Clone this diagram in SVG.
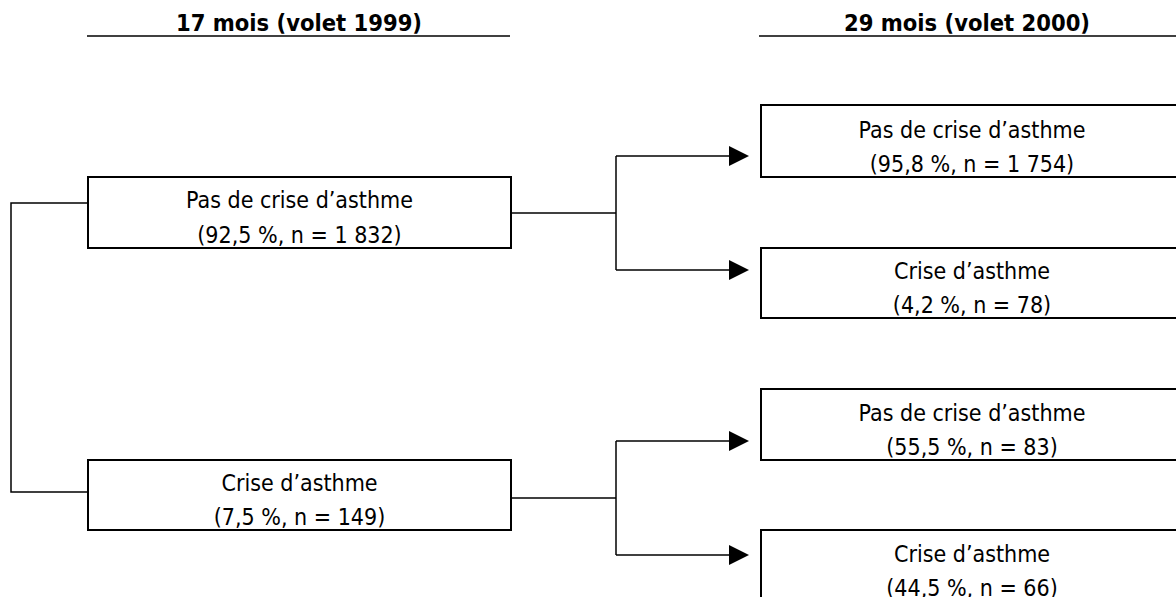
<svg xmlns="http://www.w3.org/2000/svg" width="1176" height="597" viewBox="0 0 1176 597">
<style>
  .box { fill: #ffffff; stroke: #000000; stroke-width: 2; }
  .t { font-family: "DejaVu Sans Condensed", "DejaVu Sans", Verdana, sans-serif; font-stretch: condensed; font-size: 23px; fill: #000000; text-anchor: middle; }
  .h { font-family: "DejaVu Sans Condensed", "DejaVu Sans", Verdana, sans-serif; font-stretch: condensed; font-size: 23.5px; font-weight: bold; fill: #000000; text-anchor: middle; }
  .rule { stroke: #000000; stroke-width: 1.5; fill: none; }
  .conn { stroke: #000000; stroke-width: 1.5; fill: none; }
</style>
<defs>
  <marker id="arrow" viewBox="0 0 20 20" markerWidth="20" markerHeight="20" markerUnits="userSpaceOnUse" refX="0" refY="10" orient="auto">
    <path d="M0,0 L20,10 L0,20 Z" fill="#000000"/>
  </marker>
</defs>
<rect width="1176" height="597" fill="#ffffff"/>

<g id="header-1999">
  <text class="h" x="299" y="31">17 mois (volet 1999)</text>
  <line class="rule" x1="87" y1="36" x2="510" y2="36"/>
</g>
<g id="header-2000">
  <text class="h" x="967" y="31">29 mois (volet 2000)</text>
  <line class="rule" x1="759" y1="36" x2="1176" y2="36"/>
</g>

<g id="connectors">
  <path class="conn" d="M88,203 H11 V492 H88"/>
  <path class="conn" d="M511,213 H616"/>
  <path class="conn" d="M616,156 V270"/>
  <path class="conn" d="M616,156 H729" marker-end="url(#arrow)"/>
  <path class="conn" d="M616,270 H729" marker-end="url(#arrow)"/>
  <path class="conn" d="M511,498 H616"/>
  <path class="conn" d="M616,441 V555"/>
  <path class="conn" d="M616,441 H729" marker-end="url(#arrow)"/>
  <path class="conn" d="M616,555 H729" marker-end="url(#arrow)"/>
</g>

<g id="node-17-pas-crise">
  <rect class="box" x="88" y="177" width="423" height="71"/>
  <text class="t" x="299.5" y="208">Pas de crise d’asthme</text>
  <text class="t" x="299.5" y="243">(92,5 %, n = 1 832)</text>
</g>
<g id="node-17-crise">
  <rect class="box" x="88" y="460" width="423" height="70"/>
  <text class="t" x="299.5" y="491">Crise d’asthme</text>
  <text class="t" x="299.5" y="525">(7,5 %, n = 149)</text>
</g>
<g id="node-29-a-pas-crise">
  <rect class="box" x="761" y="105" width="422" height="72"/>
  <text class="t" x="972" y="138">Pas de crise d’asthme</text>
  <text class="t" x="972" y="172">(95,8 %, n = 1 754)</text>
</g>
<g id="node-29-a-crise">
  <rect class="box" x="761" y="248" width="422" height="70"/>
  <text class="t" x="972" y="279">Crise d’asthme</text>
  <text class="t" x="972" y="313">(4,2 %, n = 78)</text>
</g>
<g id="node-29-b-pas-crise">
  <rect class="box" x="761" y="389" width="422" height="71"/>
  <text class="t" x="972" y="421">Pas de crise d’asthme</text>
  <text class="t" x="972" y="455">(55,5 %, n = 83)</text>
</g>
<g id="node-29-b-crise">
  <rect class="box" x="761" y="530" width="422" height="71"/>
  <text class="t" x="972" y="562">Crise d’asthme</text>
  <text class="t" x="972" y="596">(44,5 %, n = 66)</text>
</g>
</svg>
